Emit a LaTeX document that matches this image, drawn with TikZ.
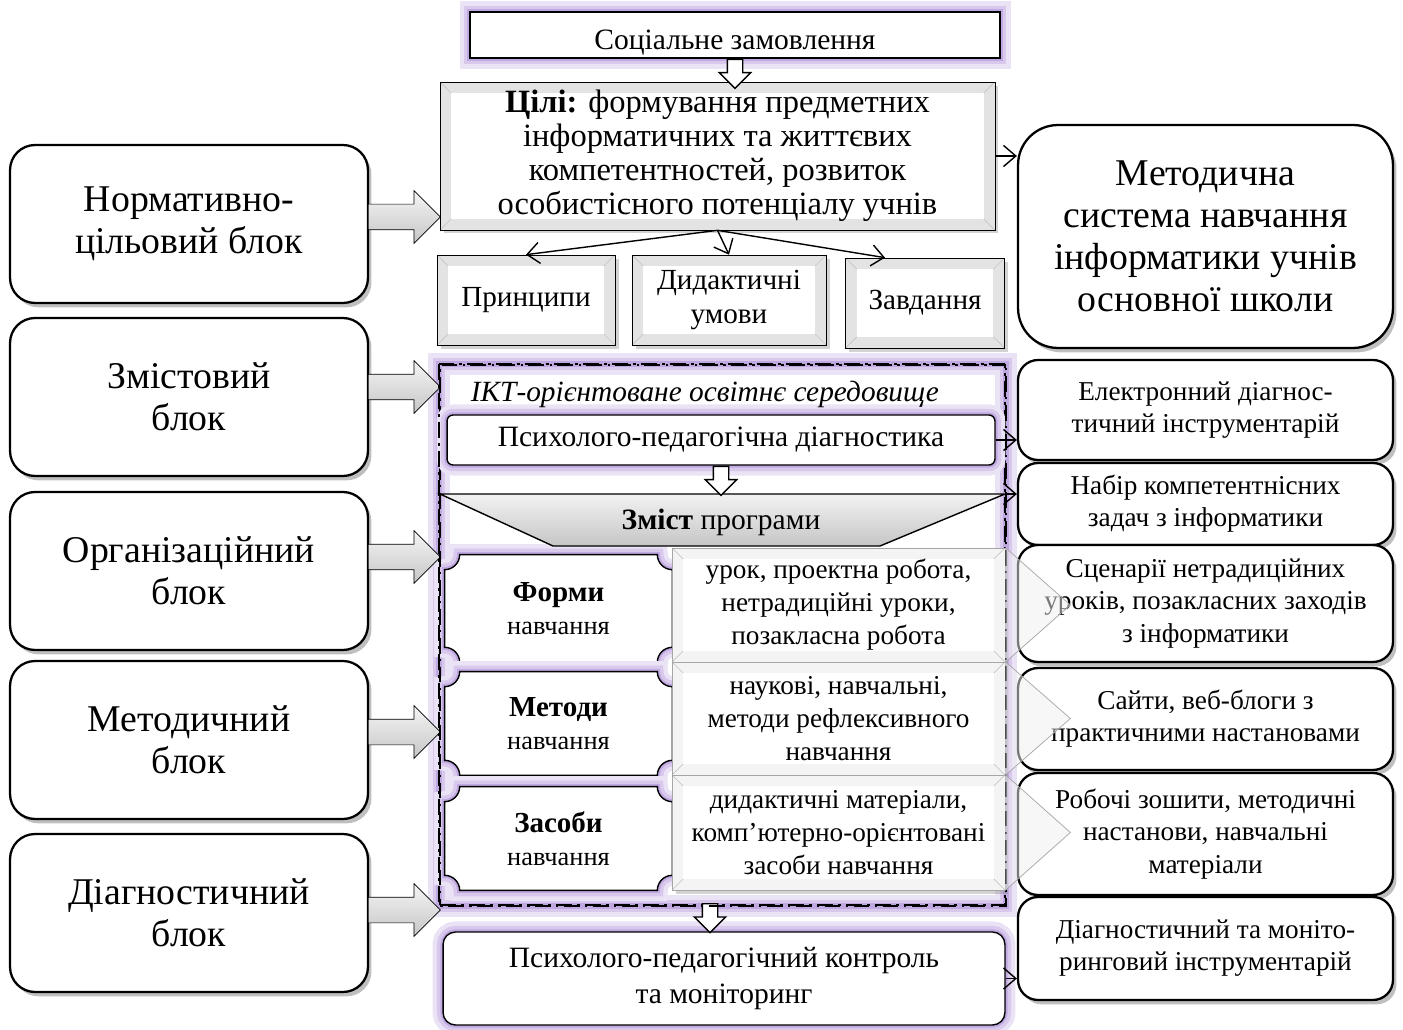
\documentclass[tikz,border=0pt]{standalone}
\usepackage{fontspec}
\setmainfont{Liberation Serif}
\usetikzlibrary{shapes.arrows,shadows,calc,arrows.meta,backgrounds}

\definecolor{lila}{RGB}{150,110,205}

\tikzset{
  blok/.style={rectangle, draw, line width=1.3pt, rounded corners=0.5cm, fill=white, align=center,
    minimum width=7.16cm, minimum height=3.16cm, font=\fontsize{21.5}{24}\selectfont,
    drop shadow={opacity=0.5, shadow xshift=2pt, shadow yshift=-2.5pt}},
  zasib/.style={rectangle, draw, line width=1.3pt, rounded corners=0.4cm, fill=white, align=center,
    minimum width=7.5cm, font=\fontsize{15.5}{18.3}\selectfont,
    drop shadow={opacity=0.5, shadow xshift=2pt, shadow yshift=-2.5pt}},
  bevel/.style={rectangle, draw, fill=gray!22, align=center, font=\fontsize{16.6}{19.8}\selectfont,
    drop shadow={opacity=0.35, shadow xshift=2pt, shadow yshift=-2pt},
    path picture={
      \fill[white] ([shift={(0.22cm,-0.22cm)}]path picture bounding box.north west)
        rectangle ([shift={(-0.22cm,0.22cm)}]path picture bounding box.south east);
      \draw[gray!45] (path picture bounding box.north west) -- ++(0.22cm,-0.22cm)
        (path picture bounding box.north east) -- ++(-0.22cm,-0.22cm)
        (path picture bounding box.south west) -- ++(0.22cm,0.22cm)
        (path picture bounding box.south east) -- ++(-0.22cm,0.22cm);}},
  rowbox/.style={bevel, draw=gray!70, fill=gray!9, minimum width=6.66cm, font=\fontsize{15.5}{18.8}\selectfont},
  plq/.style={align=center, minimum width=4.54cm, font=\fontsize{16.5}{19}\selectfont\bfseries},
  glow/.style={preaction={draw=lila!20, solid, line width=12pt},
    preaction={draw=lila!38, solid, line width=7pt},
    preaction={draw=lila!60, solid, line width=3pt}},
  ramka/.style={draw, line width=1.2pt, dash pattern=on 9pt off 3pt on 1.5pt off 3pt},
  sirarr/.style={single arrow, draw, top color=gray!8, bottom color=gray!45, anchor=tail,
    minimum height=1.44cm, single arrow head extend=0.27cm, inner sep=0.25cm},
  bilarr/.style={single arrow, draw, thick, fill=white, shape border rotate=270, anchor=tail,
    minimum height=0.58cm, single arrow head extend=0.16cm, inner sep=0.14cm},
  zv/.style={thick, -{Straight Barb[length=7pt,width=12pt]}},
  txt/.style={font=\fontsize{16.8}{20}\selectfont, align=center}
}

\begin{document}
\begin{tikzpicture}[x=0.02cm, y=-0.02cm]
\useasboundingbox (0,0) rectangle (1403,1030);

% ліві блоки
\node [blok] (norm) at (189,224) {Нормативно-\\цільовий блок};
\node [blok] (zmist) at (189,397) {Змістовий\\блок};
\node [blok] (org) at (189,571) {Організаційний\\блок};
\node [blok] (metod) at (189,740) {Методичний\\блок};
\node [blok] (diag) at (189,913) {Діагностичний\\блок};

\node [sirarr] (s1) at (368,217) {};
\node [sirarr] (s2) at (368,387) {};
\node [sirarr] (s3) at (368,557) {};
\node [sirarr] (s4) at (368,732) {};
\node [sirarr] (s5) at (368,910) {};

% верхня частина
\node [rectangle, draw, thick, fill=white, glow, minimum width=10.6cm, minimum height=0.92cm,
  txt, text height=17pt, text depth=0pt] (soc) at (735,35) {Соціальне замовлення};
\node [bevel, minimum width=11.1cm, minimum height=2.96cm, font=\fontsize{18.5}{19.3}\selectfont] (goal) at (717.5,156)
  {\textbf{Цілі:} формування предметних\\інформатичних та життєвих\\компетентностей, розвиток\\особистісного потенціалу учнів};
\node [bilarr] (b1) at (soc.south) {};

\node [bevel, minimum width=3.56cm, minimum height=1.8cm] (princ) at (526,300) {Принципи};
\node [bevel, minimum width=3.88cm, minimum height=1.8cm] (cond) at (729,300) {Дидактичні\\умови};
\node [bevel, minimum width=3.18cm, minimum height=1.8cm] (task) at (925,303) {Завдання};

\draw [zv] (goal.south) -- (princ.north);
\draw [zv] (goal.south) -- (cond.north);
\draw [zv] (goal.south) -- ($(task.north)+(-40,0)$);

\node [blok, rounded corners=0.8cm, minimum width=7.5cm, minimum height=4.46cm] (sys) at (1205.5,236.5)
  {Методична\\система навчання\\інформатики учнів\\основної школи};
\draw [zv] (goal.east) -- (goal.east -| sys.west);

% ІКТ-середовище
\node [ramka, minimum width=11.3cm, minimum height=10.8cm] (ikts) at (722.5,635) {};
\node [rectangle, draw, thick, fill=white, glow, rounded corners=0.12cm, minimum width=10.96cm,
  minimum height=1cm, txt] (diagn) at (721,440) {Психолого-педагогічна діагностика};
\node [txt, font=\fontsize{16.7}{20}\selectfont\itshape] (ikt) at (705,394) {ІКТ-орієнтоване освітнє середовище};

\draw [thick, top color=gray!10, bottom color=gray!45] (440,494) -- (1005,494) coordinate (zt) -- (880,546) -- (553,546) -- cycle;
\node [txt] (zmp) at (721,522) {\textbf{Зміст} програми};
\node [bilarr] (b2) at (diagn.south) {};

\node [plq, minimum height=2.14cm] (form) at (558.5,608.5) {Форми\\{\fontsize{15}{18}\selectfont\mdseries навчання}};
\node [plq, minimum height=2.06cm] (meth) at (558.5,723.5) {Методи\\{\fontsize{15}{18}\selectfont\mdseries навчання}};
\node [plq, minimum height=2.06cm] (tool) at (558.5,838.5) {Засоби\\{\fontsize{15}{18}\selectfont\mdseries навчання}};

\node [rowbox, minimum height=2.28cm] (r1) at (838.5,605) {урок, проектна робота,\\нетрадиційні уроки,\\позакласна робота};
\node [rowbox, minimum height=2.26cm] (r2) at (838.5,718.5) {наукові, навчальні,\\методи рефлексивного\\навчання};
\node [rowbox, minimum height=2.3cm] (r3) at (838.5,832.5) {дидактичні матеріали,\\комп’ютерно-орієнтовані\\засоби навчання};

\begin{scope}[on background layer]
\draw [glow, ramka] (ikts.north west) rectangle (ikts.south east);
\foreach \n in {form,meth,tool}
  \draw [glow, fill=white, thick] ([xshift=0.3cm]\n.north west) -- ([xshift=-0.3cm]\n.north east)
    arc[start angle=180, end angle=270, radius=0.3cm] -- ([yshift=0.3cm]\n.south east)
    arc[start angle=90, end angle=180, radius=0.3cm] -- ([xshift=0.3cm]\n.south west)
    arc[start angle=0, end angle=90, radius=0.3cm] -- ([yshift=-0.3cm]\n.north west)
    arc[start angle=270, end angle=360, radius=0.3cm] -- cycle;
\end{scope}

% контроль
\node [rectangle, draw, thick, fill=white, glow, rounded corners=0.25cm, minimum width=11.24cm,
  minimum height=1.86cm, txt] (ctrl) at (724,978.5) {Психолого-педагогічний контроль\\та моніторинг};
\node [bilarr] (b3) at (710,903) {};

% праві блоки
\node [zasib, minimum height=2cm] (el) at (1205.5,410) {Електронний діагнос-\\тичний інструментарій};
\node [zasib, minimum height=1.64cm] (nab) at (1205.5,504) {Набір компетентнісних\\задач з інформатики};
\node [zasib, minimum height=2.34cm] (scen) at (1205.5,603.5) {Сценарії нетрадиційних\\уроків, позакласних заходів\\з інформатики};
\node [zasib, minimum height=2.04cm] (sites) at (1205.5,719) {Сайти, веб-блоги з\\практичними настановами};
\node [zasib, minimum height=2.44cm] (work) at (1205.5,834) {Робочі зошити, методичні\\настанови, навчальні\\матеріали};
\node [zasib, minimum height=2.06cm] (dmon) at (1205.5,948.5) {Діагностичний та моніто-\\ринговий інструментарій};

\draw [zv] (diagn.east) -- (diagn.east -| el.west);
\draw [zv] (zt) -- (zt -| nab.west);
\draw [zv] (ctrl.east) -- (ctrl.east -| dmon.west);

\draw [ramka] (ikts.north west) rectangle (ikts.south east);
\foreach \r in {r1,r2,r3}
  \draw [gray!70, fill=gray!12, fill opacity=0.5] (\r.north east) -- ($(\r.east)+(65,0)$) -- (\r.south east);
\end{tikzpicture}
\end{document}
